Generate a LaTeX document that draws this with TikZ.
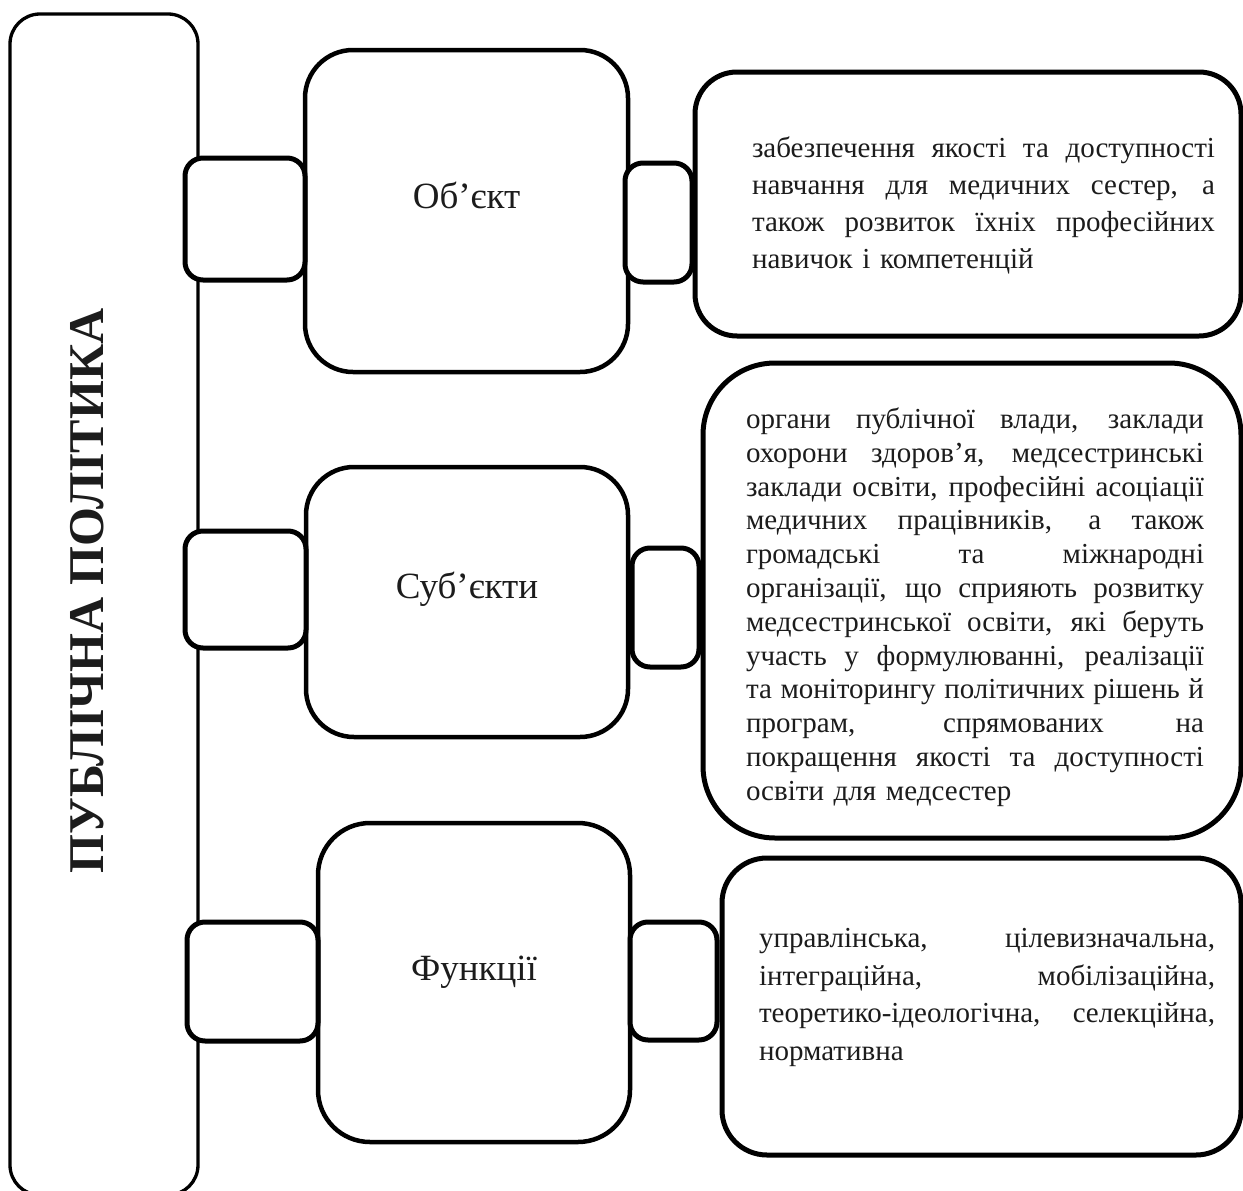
\documentclass[tikz,border=0pt]{standalone}
\usepackage{fontspec}
\setmainfont{Liberation Serif}
\definecolor{ink}{HTML}{1C1C1C}
% one justified line of a paragraph, stretched to the width \jw
% (the node's ragged alignment fixes \spaceskip, so reset it here)
\newlength{\jw}
\newcommand{\jl}[1]{\makebox[\jw][s]{\spaceskip=0pt\xspaceskip=0pt #1}}
\begin{document}
\begin{tikzpicture}[x=1pt,y=-1pt,
  every node/.style={inner sep=0pt, outer sep=0pt},
  panel/.style={draw=black, fill=white, rounded corners=#1},
  outerbox/.style={panel=30pt, line width=3.3pt},
  midbox/.style={panel=#1, line width=4.5pt},
  textbox/.style={panel=#1, line width=5pt},
  link/.style={panel=18pt, line width=5pt},
  caption/.style={anchor=base, text=ink, font=\fontsize{37}{44}\selectfont},
  para/.style={anchor=base west, text=ink, align=left, text width=#1},
]
\path[use as bounding box, clip] (0,0) rectangle (1243,1191);

% left column with the vertical title
\node[outerbox, minimum width=188pt, minimum height=1181pt] (policy) at (104,604.5) {};
\node[rotate=90, anchor=base, text=ink, font=\fontsize{50}{60}\selectfont\bfseries] (title) at (103,591) {ПУБЛІЧНА ПОЛІТИКА};

% middle boxes
\node[midbox=48pt, minimum width=323pt, minimum height=322pt] (object) at (466.5,211) {};
\node[midbox=48pt, minimum width=322pt, minimum height=270pt] (subjects) at (467,602) {};
\node[midbox=52pt, minimum width=312pt, minimum height=319pt] (functions) at (474,982.5) {};

% description boxes
\node[textbox=42pt, minimum width=546pt, minimum height=264pt] (objtext) at (968,204) {};
\node[textbox=72pt, minimum width=538pt, minimum height=475pt] (subjtext) at (972,600.5) {};
\node[textbox=45pt, minimum width=519pt, minimum height=297pt] (functext) at (981.5,1006.5) {};

% small linking boxes
\node[link, minimum width=120pt, minimum height=122pt] (l1) at (245,219) {};
\node[link, minimum width=121pt, minimum height=117pt] (l2) at (245.5,589.5) {};
\node[link, minimum width=131pt, minimum height=119pt] (l3) at (252.5,981.5) {};
\node[link, minimum width=67pt, minimum height=119pt] (r1) at (658.5,222.5) {};
\node[link, minimum width=67pt, minimum height=119pt] (r2) at (665.5,607.5) {};
\node[link, minimum width=87pt, minimum height=118pt] (r3) at (673.5,981) {};

% captions
\node[caption] (objlabel) at (466.5,208) {Об’єкт};
\node[caption] (subjlabel) at (467,598) {Суб’єкти};
\node[caption] (funclabel) at (474,980) {Функції};

% paragraphs
\node[para=463pt, font=\fontsize{29}{37}\selectfont\setlength{\jw}{463pt}] (objbody) at (752,157) {%
\jl{забезпечення якості та доступності}\\
\jl{навчання для медичних сестер, а}\\
\jl{також розвиток їхніх професійних}\\
навичок і компетенцій};

\node[para=458pt, font=\fontsize{29}{33.8}\selectfont\setlength{\jw}{458pt}] (subjbody) at (746,428.5) {%
\jl{органи публічної влади, заклади}\\
\jl{охорони здоров’я, медсестринські}\\
\jl{заклади освіти, професійні асоціації}\\
\jl{медичних працівників, а також}\\
\jl{громадські та міжнародні}\\
\jl{організації, що сприяють розвитку}\\
\jl{медсестринської освіти, які беруть}\\
\jl{участь у формулюванні, реалізації}\\
\jl{та моніторингу політичних рішень й}\\
\jl{програм, спрямованих на}\\
\jl{покращення якості та доступності}\\
освіти для медсестер};

\node[para=456pt, font=\fontsize{29}{37.7}\selectfont\setlength{\jw}{456pt}] (funcbody) at (759,947.5) {%
\jl{управлінська, цілевизначальна,}\\
\jl{інтеграційна, мобілізаційна,}\\
\jl{теоретико-ідеологічна, селекційна,}\\
нормативна};
\end{tikzpicture}
\end{document}
